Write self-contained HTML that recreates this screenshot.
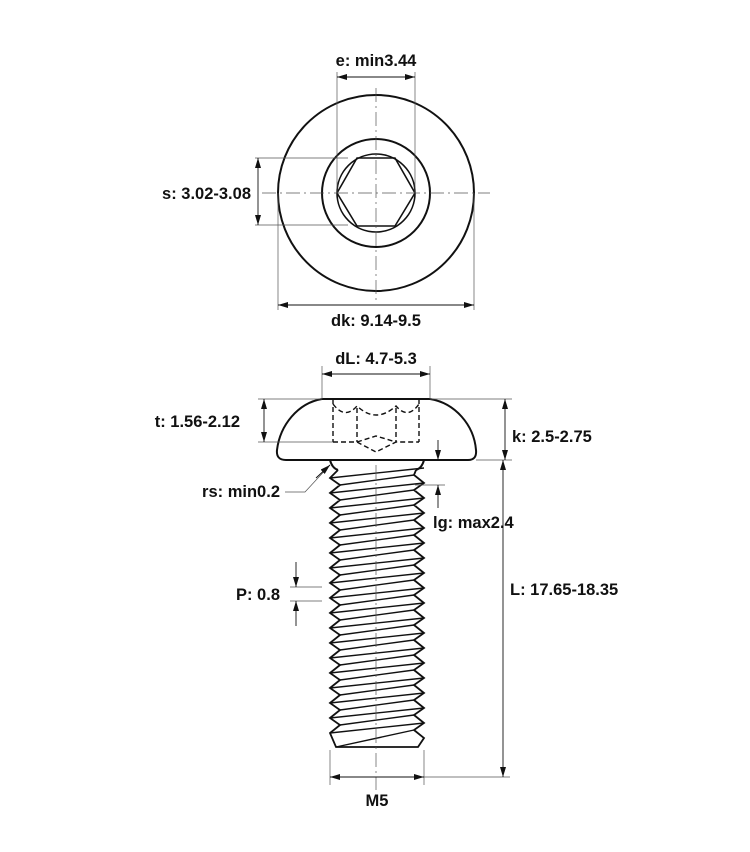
<!DOCTYPE html>
<html><head><meta charset="utf-8"><style>
html,body{margin:0;padding:0;background:#fff}
svg text{font-family:"Liberation Sans",sans-serif;font-weight:bold;font-size:16.5px;fill:#111}
</style></head><body>
<svg width="750" height="847" viewBox="0 0 750 847" xmlns="http://www.w3.org/2000/svg">
<defs>
<marker id="a" viewBox="0 0 10 6" refX="10" refY="3" markerWidth="10" markerHeight="6" orient="auto-start-reverse" markerUnits="userSpaceOnUse"><path d="M0,0L10,3L0,6z" fill="#111"/></marker>
</defs>
<g fill="none" stroke="#111">
<circle cx="376" cy="193" r="98" stroke-width="2"/>
<circle cx="376" cy="193" r="54" stroke-width="2"/>
<circle cx="376" cy="193" r="39" stroke-width="1.6"/>
<polygon points="337,193 357,158 395,158 415,193 395,226 357,226" stroke-width="1.6"/>
<g stroke-width="0.7" stroke="#555">
<line x1="262" y1="193" x2="490" y2="193" stroke-dasharray="14,4,2,4"/>
<line x1="376" y1="88" x2="376" y2="300" stroke-dasharray="14,4,2,4"/>
<line x1="337" y1="72" x2="337" y2="193"/><line x1="415" y1="72" x2="415" y2="193"/>
<line x1="255" y1="158" x2="348" y2="158"/><line x1="255" y1="225" x2="348" y2="225"/>
<line x1="278" y1="193" x2="278" y2="310"/><line x1="474" y1="193" x2="474" y2="310"/>
</g>
<g stroke-width="0.9">
<line x1="337" y1="77" x2="415" y2="77" marker-start="url(#a)" marker-end="url(#a)"/>
<line x1="258" y1="158" x2="258" y2="225" marker-start="url(#a)" marker-end="url(#a)"/>
<line x1="278" y1="305" x2="474" y2="305" marker-start="url(#a)" marker-end="url(#a)"/>
</g>
<path d="M322,399 L430,399 C455,403 474,425 476,450 Q477,460 468,460 L286,460 Q276,460 277,450 C280,425 298,403 322,399Z" stroke-width="2"/>
<g stroke-width="1.4" stroke-dasharray="5,3">
<path d="M333,399 L333,442 M419,399 L419,442 M357,408 L357,442 M396,408 L396,442"/>
<path d="M333,442 L357,442 L376,452 L396,442 L419,442"/>
<path d="M357,442 L376,436 L396,442"/>
<path d="M333,404 Q345,420 357,406 Q376,424 396,406 Q408,420 419,404"/>
</g>
<path d="M330,460 Q332,468 338,470" stroke-width="2"/>
<path d="M424,460 Q422,468 416,470" stroke-width="2"/>
<path stroke-width="1.8" d="M338,470 L330,478 L340,485 L330,493 L340,500 L330,508 L340,515 L330,523 L340,530 L330,538 L340,545 L330,553 L340,560 L330,568 L340,575 L330,583 L340,590 L330,598 L340,605 L330,613 L340,620 L330,628 L340,635 L330,643 L340,650 L330,658 L340,665 L330,673 L340,680 L330,688 L340,695 L330,703 L340,710 L330,718 L340,725 L330,733 L336,747 L418,747 L424,738 L414,730 L424,723 L414,715 L424,708 L414,700 L424,693 L414,685 L424,678 L414,670 L424,663 L414,655 L424,648 L414,640 L424,633 L414,625 L424,618 L414,610 L424,603 L414,595 L424,588 L414,580 L424,573 L414,565 L424,558 L414,550 L424,543 L414,535 L424,528 L414,520 L424,513 L414,505 L424,498 L414,490 L424,483 L414,475 L416,470"/>
<g stroke-width="1.4">
<line x1="340" y1="485" x2="414" y2="475"/><line x1="330" y1="478" x2="424" y2="468"/>
<line x1="340" y1="500" x2="414" y2="490"/><line x1="330" y1="493" x2="424" y2="483"/>
<line x1="340" y1="515" x2="414" y2="505"/><line x1="330" y1="508" x2="424" y2="498"/>
<line x1="340" y1="530" x2="414" y2="520"/><line x1="330" y1="523" x2="424" y2="513"/>
<line x1="340" y1="545" x2="414" y2="535"/><line x1="330" y1="538" x2="424" y2="528"/>
<line x1="340" y1="560" x2="414" y2="550"/><line x1="330" y1="553" x2="424" y2="543"/>
<line x1="340" y1="575" x2="414" y2="565"/><line x1="330" y1="568" x2="424" y2="558"/>
<line x1="340" y1="590" x2="414" y2="580"/><line x1="330" y1="583" x2="424" y2="573"/>
<line x1="340" y1="605" x2="414" y2="595"/><line x1="330" y1="598" x2="424" y2="588"/>
<line x1="340" y1="620" x2="414" y2="610"/><line x1="330" y1="613" x2="424" y2="603"/>
<line x1="340" y1="635" x2="414" y2="625"/><line x1="330" y1="628" x2="424" y2="618"/>
<line x1="340" y1="650" x2="414" y2="640"/><line x1="330" y1="643" x2="424" y2="633"/>
<line x1="340" y1="665" x2="414" y2="655"/><line x1="330" y1="658" x2="424" y2="648"/>
<line x1="340" y1="680" x2="414" y2="670"/><line x1="330" y1="673" x2="424" y2="663"/>
<line x1="340" y1="695" x2="414" y2="685"/><line x1="330" y1="688" x2="424" y2="678"/>
<line x1="340" y1="710" x2="414" y2="700"/><line x1="330" y1="703" x2="424" y2="693"/>
<line x1="340" y1="725" x2="414" y2="715"/><line x1="330" y1="718" x2="424" y2="708"/>
<line x1="330" y1="733" x2="424" y2="723"/><line x1="336" y1="747" x2="414" y2="730"/>
</g>
<g stroke-width="0.7" stroke="#555">
<line x1="376" y1="465" x2="376" y2="790" stroke-dasharray="14,4,2,4"/>
<line x1="322" y1="366" x2="322" y2="399"/><line x1="430" y1="366" x2="430" y2="399"/>
<line x1="258" y1="399" x2="322" y2="399"/><line x1="258" y1="442" x2="333" y2="442"/>
<line x1="430" y1="399" x2="512" y2="399"/><line x1="476" y1="460" x2="512" y2="460"/>
<line x1="424" y1="777" x2="510" y2="777"/>
<line x1="330" y1="750" x2="330" y2="785"/><line x1="424" y1="750" x2="424" y2="785"/>
<line x1="415" y1="485" x2="445" y2="485"/>
<line x1="290" y1="587" x2="322" y2="587"/><line x1="290" y1="601" x2="322" y2="601"/>
<polyline points="330,465 305,492 285,492"/>
</g>
<g stroke-width="0.9">
<line x1="322" y1="374" x2="430" y2="374" marker-start="url(#a)" marker-end="url(#a)"/>
<line x1="264" y1="399" x2="264" y2="442" marker-start="url(#a)" marker-end="url(#a)"/>
<line x1="505" y1="399" x2="505" y2="460" marker-start="url(#a)" marker-end="url(#a)"/>
<line x1="503" y1="460" x2="503" y2="777" marker-start="url(#a)" marker-end="url(#a)"/>
<line x1="330" y1="777" x2="424" y2="777" marker-start="url(#a)" marker-end="url(#a)"/>
<line x1="438" y1="440" x2="438" y2="460" marker-end="url(#a)"/>
<line x1="438" y1="508" x2="438" y2="485" marker-end="url(#a)"/>
<line x1="296" y1="562" x2="296" y2="587" marker-end="url(#a)"/>
<line x1="296" y1="626" x2="296" y2="601" marker-end="url(#a)"/>
<line x1="316" y1="478" x2="330" y2="465" marker-end="url(#a)"/>
</g>
</g>
<text x="376" y="66" text-anchor="middle">e: min3.44</text>
<text x="251" y="199" text-anchor="end">s: 3.02-3.08</text>
<text x="376" y="326" text-anchor="middle">dk: 9.14-9.5</text>
<text x="376" y="364" text-anchor="middle">dL: 4.7-5.3</text>
<text x="240" y="427" text-anchor="end">t: 1.56-2.12</text>
<text x="512" y="442">k: 2.5-2.75</text>
<text x="280" y="497" text-anchor="end">rs: min0.2</text>
<text x="433" y="528">lg: max2.4</text>
<text x="510" y="595">L: 17.65-18.35</text>
<text x="280" y="600" text-anchor="end">P: 0.8</text>
<text x="377" y="806" text-anchor="middle">M5</text>
</svg>
</body></html>
